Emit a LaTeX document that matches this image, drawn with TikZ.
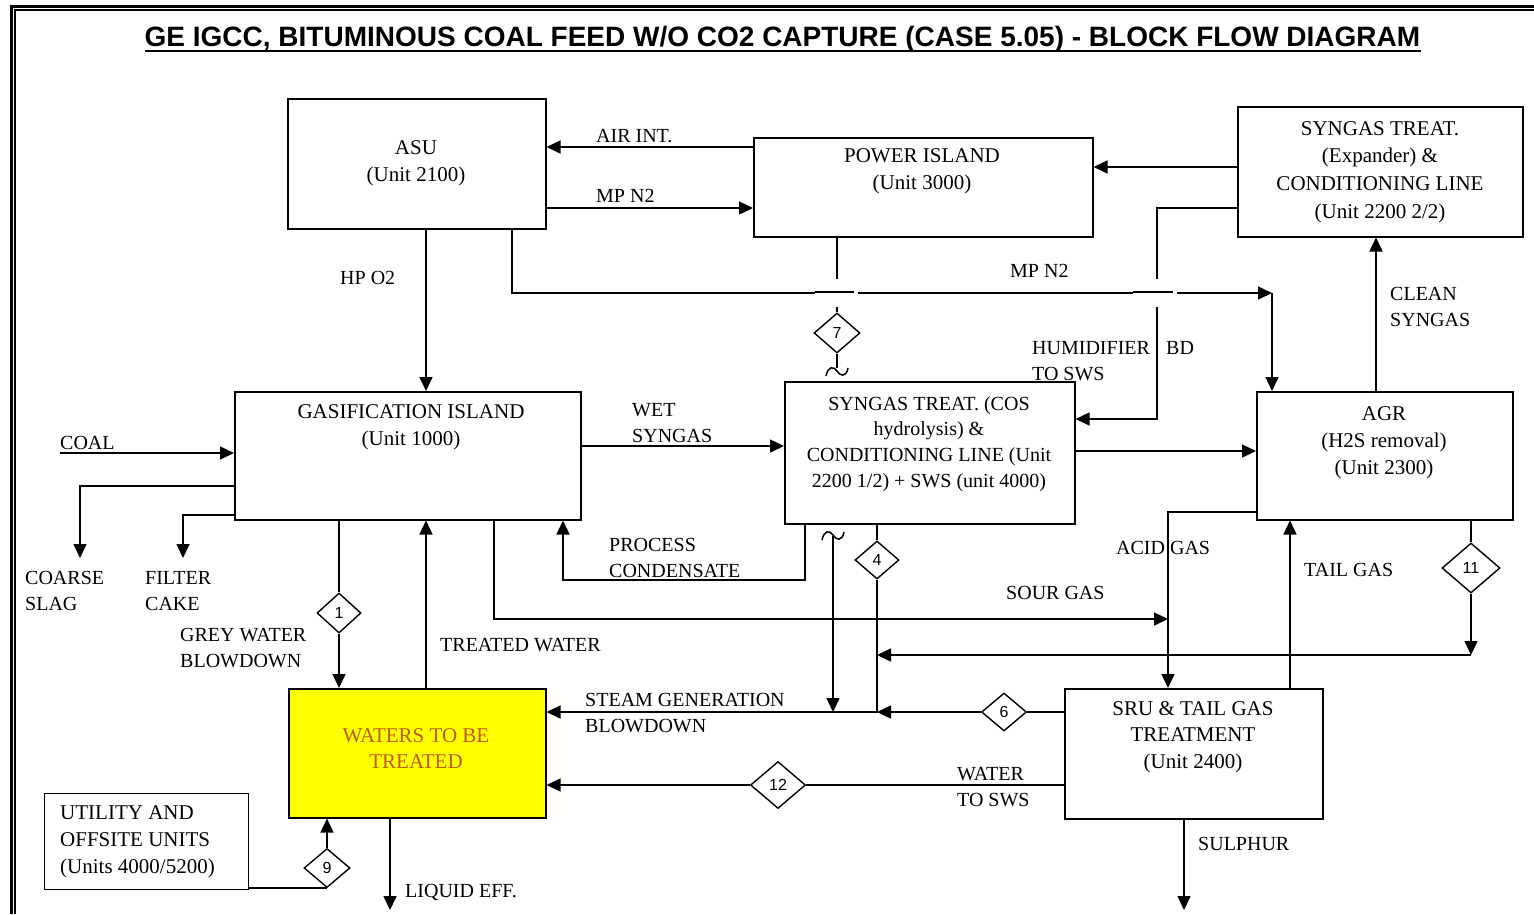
\documentclass[tikz,border=0pt]{standalone}
\usepackage{fontspec}
\setmainfont{Liberation Serif}
\newfontfamily\arialfont{Liberation Sans}
\usetikzlibrary{arrows.meta,shapes.geometric}
\definecolor{watc}{RGB}{190,90,0}
\definecolor{yel}{RGB}{255,255,0}
\begin{document}
\begin{tikzpicture}[x=1pt,y=-1pt,
  box/.style={draw, line width=1.5pt, anchor=north west, inner sep=0pt},
  btxt/.style={font=\fontsize{21}{27}\selectfont, align=center, inner sep=0pt, anchor=north},
  lbl/.style={font=\fontsize{20}{25.5}\selectfont, align=left, inner sep=0pt, anchor=north west},
  dia/.style={draw, shape=diamond, line width=1.4pt, inner sep=0pt, fill=white, font=\arialfont\fontsize{16}{16}\selectfont},
  flow/.style={line width=1.5pt, line join=miter, -{Triangle[length=14pt,width=13pt]}},
  ln/.style={line width=1.5pt, line join=miter},
]
\useasboundingbox (0,0) rectangle (1534,914);
% frame
\draw[line width=3pt, line join=miter] (11.2,914) -- (11.2,6) -- (1534,6);
\draw[line width=1.8pt, line join=miter] (15,914) -- (15,10) -- (1534,10);
% title
\node[font=\arialfont\bfseries\fontsize{28}{30}\selectfont, inner sep=0pt, anchor=base] (title) at (782.5,46) {GE IGCC, BITUMINOUS COAL FEED W/O CO2 CAPTURE (CASE 5.05) - BLOCK FLOW DIAGRAM};
\draw[line width=2.8pt] (title.west |- 0,51) -- (title.east |- 0,51);

% boxes
\node[box, minimum width=258pt, minimum height=130pt] (asu) at (287,98) {};
\node[box, minimum width=339pt, minimum height=99pt] (pwr) at (753,137) {};
\node[box, minimum width=285pt, minimum height=130pt] (sy2) at (1237,106) {};
\node[box, minimum width=346pt, minimum height=128pt] (gas) at (234,391) {};
\node[box, minimum width=290pt, minimum height=142pt] (cos) at (784,381) {};
\node[box, minimum width=256pt, minimum height=128pt] (agr) at (1256,391) {};
\node[box, fill=yel, minimum width=257pt, minimum height=129pt] (wat) at (288,688) {};
\node[box, minimum width=258pt, minimum height=130pt] (sru) at (1064,688) {};
\node[box, line width=1.3pt, minimum width=204pt, minimum height=96pt] (utl) at (44,793) {};

% box texts
\node[btxt] (asuT) at (416,140) {ASU\\(Unit 2100)};
\node[btxt] (pwrT) at (922,148) {POWER ISLAND\\(Unit 3000)};
\node[btxt, font=\fontsize{21}{27.7}\selectfont] (sy2T) at (1380,121) {SYNGAS TREAT.\\(Expander) \&\\CONDITIONING LINE\\(Unit 2200 2/2)};
\node[btxt] (gasT) at (411,404) {GASIFICATION ISLAND\\(Unit 1000)};
\node[btxt, font=\fontsize{20}{25.7}\selectfont] (cosT) at (929,396) {SYNGAS TREAT. (COS\\hydrolysis) \&\\CONDITIONING LINE (Unit\\2200 1/2) + SWS (unit 4000)};
\node[btxt] (agrT) at (1384,406) {AGR\\(H2S removal)\\(Unit 2300)};
\node[btxt, text=watc, font=\fontsize{21}{26}\selectfont] (watT) at (416,728) {WATERS TO BE\\TREATED};
\node[btxt, font=\fontsize{21}{26.5}\selectfont] (sruT) at (1193,701) {SRU \& TAIL GAS\\TREATMENT\\(Unit 2400)};
\node[btxt, align=left, anchor=north west] (utlT) at (60,805) {UTILITY AND\\OFFSITE UNITS\\(Units 4000/5200)};

% diamonds
\node[dia, minimum width=46pt, minimum height=40pt] (d7) at (837,333) {7};
\node[dia, minimum width=44pt, minimum height=38pt] (d4) at (877,560) {4};
\node[dia, minimum width=58pt, minimum height=50pt] (d11) at (1471,568) {11};
\node[dia, minimum width=55pt, minimum height=47pt] (d12) at (778,785) {12};
\node[dia, minimum width=44pt, minimum height=40pt] (d1) at (339,613) {1};
\node[dia, minimum width=45pt, minimum height=38pt] (d6) at (1004,712) {6};
\node[dia, minimum width=46pt, minimum height=39pt] (d9) at (327,868) {9};

% helper coordinates
\coordinate (g7a) at (837,279);
\coordinate (g7b) at (837,307);
\coordinate (t7) at (837,368);
\coordinate (gba) at (1157,279);
\coordinate (gbb) at (1157,307);
\coordinate (n2c) at (1272,293);
\coordinate (t4) at (833,536);
\coordinate (coal) at (60,453);
\coordinate (slag) at (80,558);
\coordinate (cake) at (183,558);
\coordinate (acid) at (1168,512);
\coordinate (liq) at (390,910);
\coordinate (sul) at (1184,910);

% ASU <-> power island
\draw[flow] (pwr.west |- 0,147) -- (asu.east |- 0,147);
\draw[flow] (asu.east |- 0,208) -- (pwr.west |- 0,208);
\draw[flow] (asu.south -| 426,0) -- (gas.north -| 426,0);
% MP N2 bottom with bridges
\draw[ln] (asu.south -| 512,0) -- (512,293) -- (815,293);
\draw[ln] (815,292) -- (854,292);
\draw[ln] (858,293) -- (1133,293);
\draw[ln] (1133,292) -- (1173,292);
\draw[flow] (1177,293) -- (n2c);
\draw[flow] (n2c) -- (agr.north -| n2c);
% power island -> 7 -> tilde
\draw[ln] (pwr.south -| g7a) -- (g7a);
\draw[ln] (g7b) -- (d7.north);
\draw[ln] (d7.south) -- (t7);
\draw[ln] (826,376) .. controls (828,366) and (834,366) .. (837,371) .. controls (840,376) and (846,378) .. (848,368);
% BD
\draw[ln] (sy2.west |- 0,208) -- (gba |- 0,208) -- (gba);
\draw[flow] (gbb) -- (1157,419) -- (cos.east |- 0,419);
% syngas 2/2 -> power island
\draw[flow] (sy2.west |- 0,167) -- (pwr.east |- 0,167);
% clean syngas
\draw[flow] (agr.north -| 1376,0) -- (sy2.south -| 1376,0);
% coal, slag, cake
\draw[flow] (coal) -- (gas.west |- coal);
\draw[flow] (gas.west |- 0,486) -- (slag |- 0,486) -- (slag);
\draw[flow] (gas.west |- 0,515) -- (cake |- 0,515) -- (cake);
% wet syngas
\draw[flow] (gas.east |- 0,446) -- (cos.west |- 0,446);
% process condensate
\draw[flow] (cos.south -| 805,0) -- (805,580) -- (563,580) -- (gas.south -| 563,0);
% cos -> agr
\draw[flow] (cos.east |- 0,451) -- (agr.west |- 0,451);
% 4 and steam generation blowdown
\draw[ln] (cos.south -| d4) -- (d4.north);
\draw[flow] (d4.south) -- (d4 |- 0,712) -- (wat.east |- 0,712);
\draw[ln] (822,540) .. controls (824,530) and (830,530) .. (833,535) .. controls (836,540) and (842,542) .. (844,532);
\draw[flow] (t4) -- (t4 |- 0,712);
% sour gas
\draw[flow] (gas.south -| 494,0) -- (494,619) -- (acid |- 0,619);
% acid gas
\draw[flow] (agr.west |- acid) -- (acid) -- (sru.north -| acid);
% tail gas
\draw[flow] (sru.north -| 1290,0) -- (agr.south -| 1290,0);
% 11
\draw[ln] (agr.south -| d11) -- (d11.north);
\draw[flow] (d11.south) -- (d11 |- 0,655);
\draw[flow] (d11 |- 0,655) -- (d4 |- 0,655);
% 6
\draw[ln] (sru.west |- d6) -- (d6.east);
\draw[flow] (d6.west) -- (d4 |- d6);
% 12 water to sws
\draw[ln] (sru.west |- d12) -- (d12.east);
\draw[flow] (d12.west) -- (wat.east |- d12);
% 1 grey water
\draw[ln] (gas.south -| d1) -- (d1.north);
\draw[flow] (d1.south) -- (wat.north -| d1);
% treated water
\draw[flow] (wat.north -| 426,0) -- (gas.south -| 426,0);
% 9
\draw[ln] (utl.east |- d9.south) -- (d9.south);
\draw[flow] (d9.north) -- (wat.south -| d9);
% liquid eff, sulphur
\draw[flow] (wat.south -| liq) -- (liq);
\draw[flow] (sru.south -| sul) -- (sul);

% labels
\node[lbl] (lAir) at (596,129.5) {AIR INT.};
\node[lbl] (lMp1) at (596,189.5) {MP N2};
\node[lbl] (lHp) at (340,271.5) {HP O2};
\node[lbl] (lMp2) at (1010,264.5) {MP N2};
\node[lbl] (lClean) at (1390,287.5) {CLEAN\\SYNGAS};
\node[lbl] (lHum) at (1032,341.5) {HUMIDIFIER\\TO SWS};
\node[lbl] (lBd) at (1166,341.5) {BD};
\node[lbl] (lCoal) at (60,436.5) {COAL};
\node[lbl] (lSlag) at (25,571.5) {COARSE\\SLAG};
\node[lbl] (lCake) at (145,571.5) {FILTER\\CAKE};
\node[lbl] (lWet) at (632,403.5) {WET\\SYNGAS};
\node[lbl] (lCond) at (609,538.5) {PROCESS\\CONDENSATE};
\node[lbl] (lSour) at (1006,586.5) {SOUR GAS};
\node[lbl] (lAcid) at (1116,541.5) {ACID GAS};
\node[lbl] (lTail) at (1304,563.5) {TAIL GAS};
\node[lbl] (lGrey) at (180,628.5) {GREY WATER\\BLOWDOWN};
\node[lbl] (lTreat) at (440,638.5) {TREATED WATER};
\node[lbl] (lSteam) at (585,693.5) {STEAM GENERATION\\BLOWDOWN};
\node[lbl] (lWater) at (957,767.5) {WATER\\TO SWS};
\node[lbl] (lLiq) at (405,884.5) {LIQUID EFF.};
\node[lbl] (lSul) at (1198,837.5) {SULPHUR};
\end{tikzpicture}
\end{document}
